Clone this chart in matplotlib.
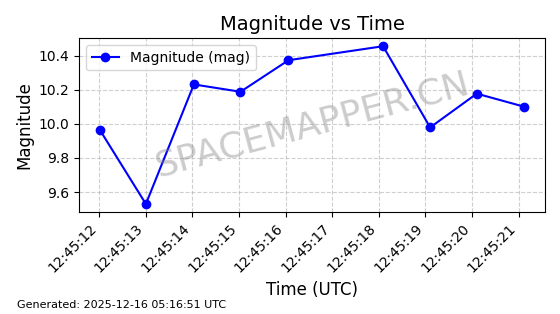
import matplotlib
matplotlib.use("Agg")
import matplotlib.pyplot as plt
import matplotlib.dates as mdates
import pandas as pd

times = ["2025-12-16 12:45:12.02", "2025-12-16 12:45:13.00", "2025-12-16 12:45:14.03",
         "2025-12-16 12:45:15.03", "2025-12-16 12:45:16.06", "2025-12-16 12:45:18.09",
         "2025-12-16 12:45:19.10", "2025-12-16 12:45:20.10", "2025-12-16 12:45:21.11"]
magnitudes = [9.961, 9.53, 10.231, 10.188, 10.373, 10.455, 9.979, 10.177, 10.101]

t = pd.to_datetime(times)

fig, ax = plt.subplots(figsize=(5.6, 3.14), dpi=100)
ax.plot(t, magnitudes, marker='o', color='blue', label='Magnitude (mag)')
ax.set_title('Magnitude vs Time', fontsize=14)
ax.set_xlabel('Time (UTC)', fontsize=12)
ax.set_ylabel('Magnitude', fontsize=12)
ax.xaxis.set_major_locator(mdates.SecondLocator())
ax.xaxis.set_major_formatter(mdates.DateFormatter('%H:%M:%S'))
plt.setp(ax.get_xticklabels(), rotation=45, ha='right')
ax.grid(True, linestyle='--', alpha=0.6)
ax.legend(loc='upper left')
ax.text(0.5, 0.5, 'SPACEMAPPER.CN', transform=ax.transAxes, fontsize=26,
        color='gray', alpha=0.4, ha='center', va='center', rotation=15)
fig.tight_layout()
fig.text(0.03, 0.02, 'Generated: 2025-12-16 05:16:51 UTC', fontsize=8)
fig.savefig('out.png', dpi=100)
